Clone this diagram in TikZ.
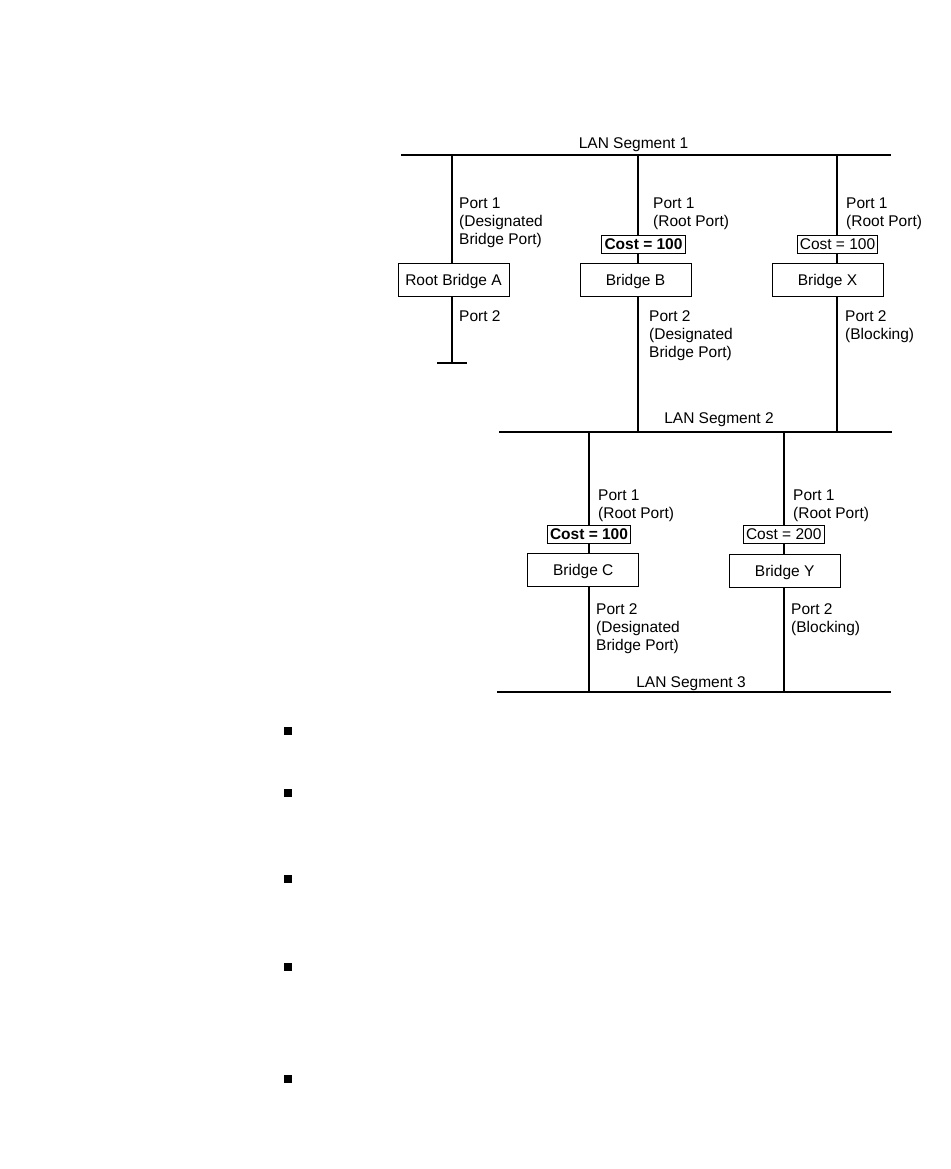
\documentclass[tikz,border=0pt]{standalone}
\usepackage{fontspec}
\setmainfont{Liberation Sans}
\usetikzlibrary{backgrounds}

\begin{document}
\begin{tikzpicture}[x=1pt, y=-1pt,
  font=\fontsize{15.5}{18}\selectfont,
  bridge/.style={rectangle, draw, line width=1pt, fill=white,
    minimum width=111pt, minimum height=33pt, inner sep=0pt,
    text height=11pt, text depth=0pt},
  cost/.style={rectangle, draw, line width=1pt, fill=white,
    minimum height=18pt, inner xsep=2.6pt, inner ysep=0pt,
    text height=11pt, text depth=0pt},
  portlbl/.style={anchor=north west, align=left, inner sep=0pt},
  seglbl/.style={anchor=base, inner sep=0pt},
  lan/.style={line width=1.8pt},
  wire/.style={line width=1.8pt},
  bullet/.style={rectangle, fill=black, minimum size=8pt, inner sep=0pt}]
\useasboundingbox (0,0) rectangle (950,1169);

\coordinate (s1l) at (401,155); \coordinate (s1r) at (891,155);
\coordinate (s2l) at (499,432); \coordinate (s2r) at (892,432);
\coordinate (s3l) at (497,692); \coordinate (s3r) at (891,692);
\coordinate (s1a) at (452,155); \coordinate (endA) at (452,363);
\coordinate (endAl) at (437,363); \coordinate (endAr) at (467,363);
\coordinate (s1b) at (638,155); \coordinate (s2b) at (638,432);
\coordinate (s1x) at (837,155); \coordinate (s2x) at (837,432);
\coordinate (s2c) at (589,432); \coordinate (s3c) at (589,692);
\coordinate (s2y) at (784,432); \coordinate (s3y) at (784,692);

\node[bridge] (bA) at (453.5,279.5) {Root Bridge A};
\node[bridge] (bB) at (635.5,279.5) {Bridge B};
\node[bridge] (bX) at (827.5,279.5) {Bridge X};
\node[bridge] (bC) at (583.3,569.7) {Bridge C};
\node[bridge] (bY) at (784.7,570.8) {Bridge Y};

\node[cost] (cB) at (643.5,244) {\textbf{Cost = 100}};
\node[cost] (cX) at (837.5,244) {Cost = 100};
\node[cost] (cC) at (589,534) {\textbf{Cost = 100}};
\node[cost] (cY) at (783.7,534.2) {Cost = 200};

\node[seglbl] (lan1) at (633.5,149) {LAN Segment 1};
\node[seglbl] (lan2) at (719,423) {LAN Segment 2};
\node[seglbl] (lan3) at (691,687) {LAN Segment 3};

\node[portlbl] (pA1) at (459,198) {Port 1\\(Designated\\Bridge Port)};
\node[portlbl] (pA2) at (459,310.5) {Port 2};
\node[portlbl] (pB1) at (653,198) {Port 1\\(Root Port)};
\node[portlbl] (pB2) at (649,310.5) {Port 2\\(Designated\\Bridge Port)};
\node[portlbl] (pX1) at (846,198) {Port 1\\(Root Port)};
\node[portlbl] (pX2) at (845,310.5) {Port 2\\(Blocking)};
\node[portlbl] (pC1) at (598,489.5) {Port 1\\(Root Port)};
\node[portlbl] (pC2) at (596,603) {Port 2\\(Designated\\Bridge Port)};
\node[portlbl] (pY1) at (793,489.5) {Port 1\\(Root Port)};
\node[portlbl] (pY2) at (791,603) {Port 2\\(Blocking)};

\foreach \yb [count=\i] in {731,793,879,967,1079}
  \node[bullet] (bul\i) at (288,\yb) {};

% segments and drops sit under the boxes
\begin{scope}[on background layer]
\fill[white] (0,0) rectangle (950,1169);
\draw[lan] (s1l) -- (s1r);
\draw[lan] (s2l) -- (s2r);
\draw[lan] (s3l) -- (s3r);
\draw[wire] (s1a) -- (endA);
\draw[wire] (endAl) -- (endAr);
\draw[wire] (s1b) -- (s2b);
\draw[wire] (s1x) -- (s2x);
\draw[wire] (s2c) -- (s3c);
\draw[wire] (s2y) -- (s3y);
\end{scope}
\end{tikzpicture}
\end{document}
